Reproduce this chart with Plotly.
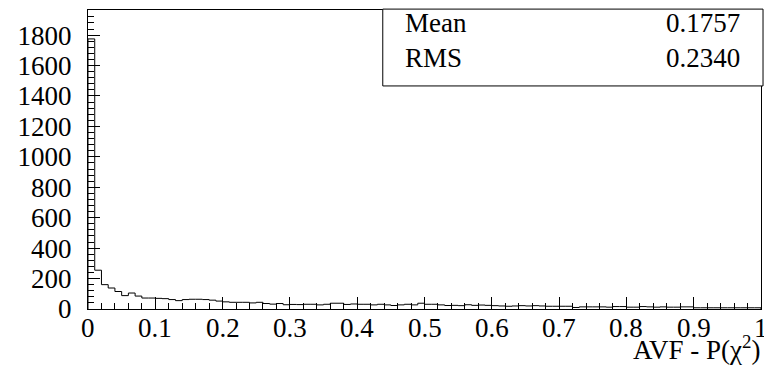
import plotly.graph_objects as go

# ---- data ----
bin_low = 0.0
bin_high = 1.0
counts = [
    1775, 255, 160, 138, 115, 88, 105, 85, 72, 72,
    70, 68, 62, 55, 62, 64, 64, 62, 58, 52,
    47, 44, 44, 44, 40, 44, 36, 32, 36, 28,
    30, 29, 31, 31, 27, 31, 38, 38, 30, 33,
    31, 31, 27, 31, 27, 23, 27, 31, 27, 38,
    31, 31, 27, 23, 24, 22, 28, 24, 26, 24,
    22, 20, 18, 20, 22, 20, 22, 20, 18, 18,
    18, 18, 10, 14, 14, 14, 14, 12, 16, 16,
    12, 12, 16, 14, 12, 14, 12, 12, 14, 14,
    8, 8, 8, 8, 8, 8, 8, 8, 8, 8,
]
x_ticks = [0, 0.1, 0.2, 0.3, 0.4, 0.5, 0.6, 0.7, 0.8, 0.9, 1]
x_tick_labels = ["0", "0.1", "0.2", "0.3", "0.4", "0.5", "0.6", "0.7", "0.8", "0.9", "1"]
y_ticks = [0, 200, 400, 600, 800, 1000, 1200, 1400, 1600, 1800]
stat_names = ["Mean", "RMS"]
stat_values = ["0.1757", "0.2340"]
x_title = "AVF - P(χ<sup>2</sup>)"

# ---- build step outline ----
n = len(counts)
w = (bin_high - bin_low) / n
xs = [bin_low]
ys = [0]
for i, c in enumerate(counts):
    xs.append(bin_low + i * w)
    ys.append(c)
xs += [bin_high, bin_high]
ys += [counts[-1], 0]

FONT = "Liberation Serif, Times New Roman, serif"
FS = 27

fig = go.Figure()
fig.add_trace(go.Scatter(x=xs, y=ys, mode="lines", line=dict(color="black", width=1, shape="hv"),
                         hoverinfo="skip", showlegend=False))

fig.update_layout(
    width=764, height=368,
    margin=dict(l=88, r=3, t=10, b=59, autoexpand=False),
    paper_bgcolor="white", plot_bgcolor="white",
    font=dict(family=FONT, size=FS, color="black"),
    showlegend=False,
    xaxis=dict(range=[0, 1], tickmode="array", tickvals=x_ticks, showticklabels=False,
               ticks="inside", ticklen=12, tickwidth=1, tickcolor="black",
               minor=dict(dtick=0.02, ticks="inside", ticklen=6, tickcolor="black", tickwidth=1),
               showgrid=False, zeroline=False, showline=True, linecolor="black", linewidth=1,
               mirror=True, automargin=False),
    yaxis=dict(range=[0, 1965], tickmode="array", tickvals=y_ticks,
               ticks="inside", ticklen=12, tickwidth=1, tickcolor="black",
               minor=dict(dtick=40, ticks="inside", ticklen=6, tickcolor="black", tickwidth=1),
               showgrid=False, zeroline=False, showline=True, linecolor="black", linewidth=1,
               mirror=True, ticklabelstandoff=10, automargin=False, ticklabeloverflow="allow"),
)

# x tick labels placed on the x scale
for tv, tl in zip(x_ticks, x_tick_labels):
    fig.add_annotation(xref="x", yref="paper", x=tv, y=-0.062, text=tl, showarrow=False,
                       xanchor="center", yanchor="middle", font=dict(size=FS), borderpad=0)

# stats box
fig.add_shape(type="rect", xref="paper", yref="paper", x0=0.438, x1=1.003, y0=0.746, y1=1.003,
              line=dict(color="black", width=1), fillcolor="white", layer="above")
for name, val, yy in zip(stat_names, stat_values, [0.958, 0.838]):
    fig.add_annotation(xref="paper", yref="paper", x=0.468, y=yy, text=name, showarrow=False,
                       xanchor="left", yanchor="middle", font=dict(size=FS))
    fig.add_annotation(xref="paper", yref="paper", x=0.972, y=yy, text=val, showarrow=False,
                       xanchor="right", yanchor="middle", font=dict(size=FS))

fig.add_annotation(xref="paper", yref="paper", x=1.002, y=-0.130, text=x_title, showarrow=False,
                   xanchor="right", yanchor="middle", font=dict(size=FS))

fig.write_html("out.html", config={"displayModeBar": False},
               post_script="document.body.style.margin='0px';document.body.style.overflow='hidden';")
